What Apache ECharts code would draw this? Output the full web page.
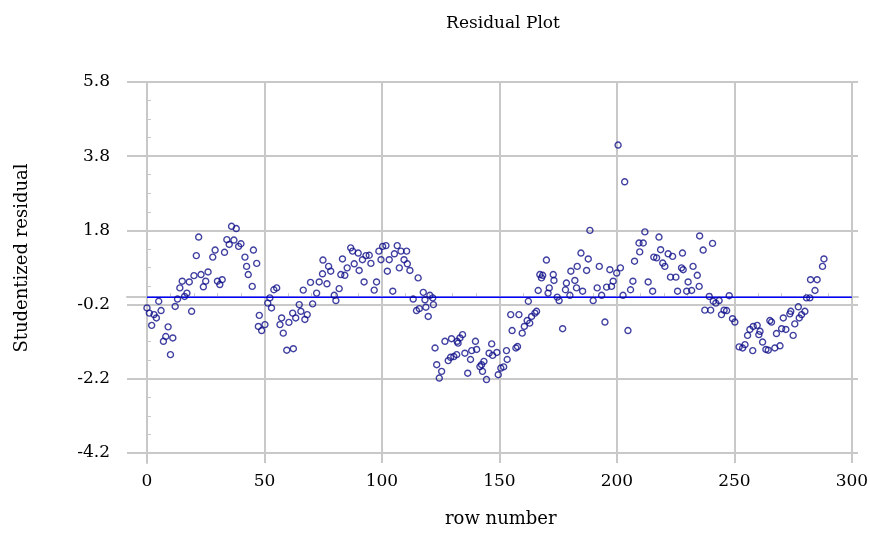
<!DOCTYPE html>
<html>
<head>
<meta charset="utf-8">
<title>Residual Plot</title>
<script src="https://cdn.jsdelivr.net/npm/echarts@6/dist/echarts.min.js"></script>
<style>
  html, body { margin: 0; padding: 0; background: #fff; }
  #main { width: 870px; height: 533px; }
</style>
</head>
<body>
<div id="main"></div>
<script>
// 数据：行号 / 学生化残差（从图上读出来的）
const rowNumber = [
  0, 1, 2, 3, 4, 5, 6, 7, 8, 9, 10, 11, 12, 13, 14, 15, 16, 17, 18, 19,
  20, 21, 22, 23, 24, 25, 26, 28, 29, 30, 31, 32, 33, 34, 35, 36, 37, 38, 39, 40,
  41.7, 42.4, 43.1, 44.8, 45.3, 46.7, 47.4, 47.8, 48.8, 50.2, 51.4, 52.3, 53, 54, 55.2, 56.6, 57.3, 58, 59.5, 60.4,
  62, 62.3, 63.3, 64.8, 65.5, 66.5, 67.2, 68.2, 69.6, 70.5, 72.2, 73.3, 74.7, 74.9, 76.6, 77.3, 78.2, 79.7, 80.4, 81.8,
  82.5, 83.2, 84.2, 85.2, 86.7, 87.5, 88.2, 89.9, 90.3, 91.7, 92.4, 93.2, 94.6, 95.3, 96.7, 97.7, 98.7, 99.6, 100.3, 101.7,
  102.3, 103.1, 104.6, 105.3, 106.5, 107.4, 108.1, 109.4, 110.5, 110.8, 111.9, 113.3, 114.7, 115.4, 115.9, 117.6, 118.3, 118.7, 119.7, 120.4,
  121.6, 121.9, 122.6, 123.3, 124.4, 125.4, 126.8, 128.2, 129.2, 129.6, 130.6, 131.8, 132, 132.4, 133.2, 134.3, 135.3, 136.5, 137.7, 138.2,
  139.8, 140.3, 141.7, 142.4, 142.8, 143.4, 144.5, 145.6, 146.7, 147.1, 148.9, 149.5, 150.6, 151.8, 153, 153.3, 154.8, 155.4, 157, 157.7,
  158.3, 159.7, 160.6, 161.8, 162.3, 162.9, 163.7, 165.1, 165.8, 166.5, 167.2, 167.9, 168.4, 170, 170.7, 171.2, 172.9, 173.2, 174.6, 175.4,
  176.9, 178.1, 178.5, 180, 180.4, 182.1, 182.8, 183.1, 184.7, 185.4, 187.1, 187.8, 188.5, 189.9, 191.6, 192.5, 193.5, 194.9, 195.6, 197,
  197.7, 198.4, 199.9, 200.5, 201.5, 202.6, 203.3, 204.7, 205.8, 206.8, 207.5, 209.4, 209.7, 211.2, 211.9, 213.3, 215.2, 215.7, 216.9, 217.9,
  218.6, 219.5, 220.4, 221.8, 222.8, 223.7, 225.1, 225.8, 227.5, 227.9, 228.2, 229.7, 230.3, 231.8, 232.4, 234.2, 235.2, 235, 236.7, 237.4,
  239.3, 239.9, 240.7, 241, 242.1, 243.5, 244.5, 245.6, 246.7, 247.8, 249.2, 250.2, 252, 253.5, 254.5, 255.6, 256.6, 257.8, 258, 259.7,
  260.4, 260.9, 262, 263.4, 264.4, 265.1, 265.8, 267.2, 267.9, 269.4, 270.1, 270.8, 271.9, 273.6, 274, 275, 275.7, 277.2, 277.6, 278.6,
  280, 280.7, 282.1, 282.4, 284.3, 285.2, 287.5, 288.1
]
const residual = [
  -0.29, -0.43, -0.76, -0.47, -0.56, -0.11, -0.36, -1.19, -1.06, -0.80, -1.55, -1.10, -0.25, -0.05, 0.25, 0.43, 0.02, 0.11, 0.41, -0.38,
  0.58, 1.12, 1.62, 0.61, 0.28, 0.43, 0.68, 1.08, 1.27, 0.43, 0.34, 0.47, 1.21, 1.55, 1.42, 1.91, 1.54, 1.85, 1.37, 1.44,
  1.08, 0.83, 0.61, 0.29, 1.27, 0.91, -0.79, -0.49, -0.90, -0.74, -0.16, -0.02, -0.29, 0.20, 0.25, -0.74, -0.56, -0.97, -1.43, -0.68,
  -0.43, -1.39, -0.56, -0.20, -0.38, 0.19, -0.60, -0.47, 0.40, -0.18, 0.11, 0.41, 0.63, 1.00, 0.36, 0.83, 0.70, 0.05, -0.09, 0.23,
  0.61, 1.03, 0.59, 0.79, 1.33, 1.24, 0.90, 1.19, 0.72, 1.01, 0.41, 1.12, 1.13, 0.91, 0.19, 0.41, 1.24, 1.01, 1.37, 1.39,
  0.70, 1.01, 0.16, 1.17, 1.39, 0.79, 1.24, 1.01, 1.24, 0.90, 0.72, -0.05, -0.36, 0.52, -0.31, 0.13, -0.07, -0.27, -0.52, 0.05,
  -0.02, -0.20, -1.37, -1.82, -2.18, -2.00, -1.19, -1.71, -1.62, -1.12, -1.60, -1.55, -1.19, -1.24, -1.10, -1.01, -1.51, -2.05, -1.68, -1.44,
  -1.19, -1.41, -1.87, -1.82, -2.00, -1.73, -2.22, -1.51, -1.26, -1.57, -1.49, -2.09, -1.91, -1.88, -1.44, -1.68, -0.47, -0.90, -1.37, -1.33,
  -0.47, -0.97, -0.79, -0.63, -0.11, -0.70, -0.52, -0.43, -0.38, 0.18, 0.61, 0.52, 0.59, 1.00, 0.11, 0.25, 0.61, 0.45, 0.00, -0.09,
  -0.85, 0.20, 0.38, 0.05, 0.70, 0.45, 0.25, 0.83, 1.19, 0.16, 0.72, 1.03, 1.80, -0.09, 0.25, 0.83, 0.05, -0.67, 0.27, 0.74,
  0.29, 0.43, 0.65, 4.10, 0.79, 0.05, 3.11, -0.90, 0.20, 0.43, 0.97, 1.46, 1.22, 1.46, 1.76, 0.41, 0.16, 1.08, 1.06, 1.62,
  1.28, 0.92, 0.83, 1.17, 0.54, 1.10, 0.54, 0.16, 0.79, 1.19, 0.74, 0.16, 0.41, 0.18, 0.83, 0.59, 1.65, 0.29, 1.27, -0.35,
  0.02, -0.35, 1.45, -0.11, -0.16, -0.09, -0.47, -0.35, -0.36, 0.04, -0.58, -0.67, -1.34, -1.37, -1.28, -1.03, -0.87, -1.44, -0.79, -0.76,
  -1.01, -0.92, -1.21, -1.41, -1.43, -0.63, -0.67, -1.37, -0.98, -1.31, -0.85, -0.56, -0.87, -0.45, -0.38, -1.03, -0.72, -0.26, -0.56, -0.47,
  -0.38, -0.02, -0.02, 0.47, 0.18, 0.47, 0.83, 1.03
]

// 零线
const zeroLineX = [0, 300]
const zeroLineY = [0, 0]

// 刻度
const xTicks = [0, 50, 100, 150, 200, 250, 300]
const xMinorTicks = [10, 20, 30, 40, 60, 70, 80, 90, 110, 120, 130, 140, 160, 170, 180, 190, 210, 220, 230, 240, 260, 270, 280, 290]
const yTicks = [-4.2, -2.2, -0.2, 1.8, 3.8, 5.8]
const yMinorTicks = [-3.7, -3.2, -2.7, -1.7, -1.2, -0.7, 0.3, 0.8, 1.3, 2.3, 2.8, 3.3, 4.3, 4.8, 5.3]

const gridGray = '#c8c8c8'
const serif = 'DejaVu Serif'

const myChart = echarts.init(document.getElementById('main'), null, { renderer: 'canvas' })

const points = rowNumber.map((r, i) => [r, residual[i]])
const zeroLine = zeroLineX.map((x, i) => [x, zeroLineY[i]])

myChart.setOption({
  animation: false,
  backgroundColor: '#fff',
  title: {
    text: 'Residual Plot',
    left: 498,
    top: 10,
    textAlign: 'center',
    textStyle: { fontFamily: serif, fontSize: 17, fontWeight: 'normal', color: '#000' }
  },
  grid: {
    left: 127, right: 12, top: 82, bottom: 70,
    containLabel: false,
    outerBoundsMode: 'none'
  },
  xAxis: [
    {
      type: 'value', min: -8.5, max: 302.6,
      axisLine: { show: true, lineStyle: { color: gridGray, width: 2 } },
      axisTick: { show: true, inside: true, length: 4, customValues: xTicks, lineStyle: { color: gridGray, width: 2 } },
      axisLabel: {
        customValues: xTicks, margin: 10,
        fontFamily: serif, fontSize: 17, color: '#000'
      },
      splitLine: { show: true, lineStyle: { color: gridGray, width: 2 } }
    },
    {
      // 小刻度
      type: 'value', min: -8.5, max: 302.6, position: 'bottom',
      axisLine: { show: false },
      axisTick: { show: true, inside: true, length: 4, customValues: xMinorTicks, lineStyle: { color: gridGray, width: 1 } },
      axisLabel: { show: false },
      splitLine: { show: false }
    }
  ],
  yAxis: [
    {
      type: 'value', min: -4.47, max: 5.8,
      axisLine: { show: true, lineStyle: { color: gridGray, width: 2 } },
      axisTick: { show: true, inside: true, length: 4, customValues: yTicks, lineStyle: { color: gridGray, width: 2 } },
      axisLabel: {
        customValues: yTicks, margin: 17,
        formatter: v => v.toFixed(1),
        fontFamily: serif, fontSize: 17, color: '#000'
      },
      splitLine: { show: true, lineStyle: { color: gridGray, width: 2 } }
    },
    {
      type: 'value', min: -4.47, max: 5.8, position: 'left',
      axisLine: { show: false },
      axisTick: { show: true, inside: true, length: 4, customValues: yMinorTicks, lineStyle: { color: gridGray, width: 1 } },
      axisLabel: { show: false },
      splitLine: { show: false }
    }
  ],
  graphic: [
    {
      type: 'text', left: 445, top: 510,
      style: { text: 'row number', fontFamily: serif, fontSize: 18, fill: '#000' }
    },
    {
      type: 'text', x: 22, y: 258, rotation: Math.PI / 2,
      style: {
        text: 'Studentized residual', fontFamily: serif, fontSize: 18, fill: '#000',
        align: 'center', verticalAlign: 'middle'
      }
    }
  ],
  series: [
    {
      type: 'line',
      data: zeroLine,
      xAxisIndex: 0, yAxisIndex: 0,
      symbol: 'none',
      lineStyle: { color: '#0000ff', width: 1.5 },
      z: 2
    },
    {
      type: 'scatter',
      data: points,
      xAxisIndex: 0, yAxisIndex: 0,
      symbol: 'circle',
      symbolSize: 6,
      itemStyle: { color: 'rgba(255,255,255,0)', borderColor: '#10108a', borderWidth: 1.4 },
      z: 3
    }
  ]
})
</script>
</body>
</html>
